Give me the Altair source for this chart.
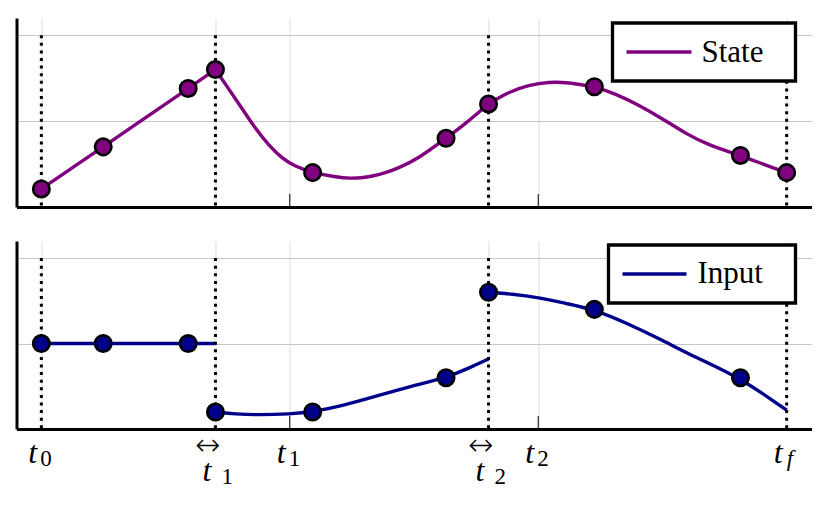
import altair as alt
import pandas as pd

# ---------------- data ----------------
# tick positions (time)
tick_t = [0.0, 2.336, 10 / 3, 6.0, 20 / 3, 10.0]
tick_sub = ["0", "1", "1", "2", "2", "f"]
tick_arrow = [False, True, False, True, False, False]
phase_bounds = [0.0, 2.336, 6.0, 10.0]      # dotted lines
plain_ticks = [10 / 3, 20 / 3]               # small inward ticks

# State: collocation nodes
state_node_t = [0.0, 0.83, 1.97, 2.336, 3.64, 5.43, 6.0, 7.42, 9.38, 10.0]
state_node_y = [0.21, 0.70, 1.38, 1.60, 0.40, 0.80, 1.20, 1.40, 0.60, 0.40]
# State: interpolated trajectory per phase
state_p1_t = [0.0, 0.83, 1.97, 2.336]
state_p1_y = [0.21, 0.70, 1.38, 1.60]
state_p2_t = [2.336, 2.51, 2.69, 2.87, 3.05, 3.23, 3.41, 3.64, 3.94, 4.15, 4.35,
              4.52, 4.79, 5.06, 5.43, 5.69, 6.0]
state_p2_y = [1.60, 1.38, 1.15, 0.915, 0.72, 0.565, 0.47, 0.40, 0.35, 0.33, 0.345,
              0.37, 0.45, 0.565, 0.80, 0.97, 1.20]
state_p3_t = [6.0, 6.27, 6.54, 6.81, 7.07, 7.42, 7.70, 8.01, 8.33, 8.64, 8.95, 9.38, 9.71, 10.0]
state_p3_y = [1.20, 1.34, 1.42, 1.457, 1.45, 1.40, 1.32, 1.19, 1.03, 0.857, 0.72, 0.60, 0.49, 0.40]

# Input: collocation nodes
input_node_t = [0.0, 0.83, 1.97, 2.336, 3.64, 5.43, 6.0, 7.42, 9.38]
input_node_y = [1.0, 1.0, 1.0, 0.20, 0.20, 0.60, 1.60, 1.40, 0.60]
# Input: interpolated trajectory per phase
input_p1_t = [0.0, 2.336]
input_p1_y = [1.0, 1.0]
input_p2_t = [2.336, 2.60, 2.91, 3.34, 3.64, 4.03, 4.48, 4.93, 5.43, 5.73, 6.0]
input_p2_y = [0.20, 0.175, 0.164, 0.175, 0.20, 0.27, 0.38, 0.495, 0.60, 0.71, 0.82]
input_p3_t = [6.0, 6.31, 6.67, 7.03, 7.42, 7.88, 8.33, 8.77, 9.38, 10.0]
input_p3_y = [1.60, 1.58, 1.54, 1.47, 1.40, 1.23, 1.04, 0.84, 0.60, 0.22]

legend_labels = ["State", "Input"]

# ---------------- tables ----------------
def curve_df(parts):
    rows = []
    for i, (ts, ys) in enumerate(parts):
        for t, y in zip(ts, ys):
            rows.append({"t": t, "y": y, "seg": f"p{i+1}"})
    return pd.DataFrame(rows)

state_curve = curve_df([(state_p1_t, state_p1_y), (state_p2_t, state_p2_y), (state_p3_t, state_p3_y)])
input_curve = curve_df([(input_p1_t, input_p1_y), (input_p2_t, input_p2_y), (input_p3_t, input_p3_y)])
state_nodes = pd.DataFrame({"t": state_node_t, "y": state_node_y})
input_nodes = pd.DataFrame({"t": input_node_t, "y": input_node_y})
dots_df = pd.DataFrame({"t": phase_bounds})
ticks_df = pd.DataFrame({"t": plain_ticks})
labels_df = pd.DataFrame({"t": tick_t, "main": ["t"] * len(tick_t), "sub": tick_sub,
                          "arrow": tick_arrow, "arr": ["\u2194"] * len(tick_t)})

PURPLE = "#800080"
NAVY = "#00008b"
FONT = "Liberation Serif, Times New Roman, DejaVu Serif, serif"
W = 795
H1 = 189
H2 = 188

x_scale = alt.Scale(domain=[-1 / 3, 10 + 1 / 3], nice=False, zero=False)
y_scale = alt.Scale(domain=[0, 2.2], nice=False, zero=False)
x_axis = alt.Axis(values=tick_t, labels=False, ticks=False, grid=True, gridColor="#e2e2e2",
                  gridWidth=1.2, domainColor="black", domainWidth=3, title=None)
y_axis = alt.Axis(values=[1, 2], labels=False, ticks=False, grid=True, gridColor="#c6c6c6",
                  gridWidth=1.2, domainColor="black", domainWidth=3, title=None)

X = alt.X("t:Q", scale=x_scale, axis=x_axis)
Y = alt.Y("y:Q", scale=y_scale, axis=y_axis)


def panel(curve, nodes, color, label, h, box):
    lines = alt.Chart(curve).mark_line(color=color, strokeWidth=3.4, interpolate="basis").encode(
        x=X, y=Y, detail="seg:N")
    dots = alt.Chart(dots_df).mark_rule(color="black", strokeWidth=3, strokeDash=[3, 4.6]).encode(
        x=X, y=alt.YDatum(2, scale=y_scale, axis=y_axis), y2=alt.Y2Datum(0))
    tks = alt.Chart(ticks_df).mark_rule(color="black", strokeWidth=1).encode(
        x=X, y=alt.value(h), y2=alt.value(h - 13))
    pts = alt.Chart(nodes).mark_circle(color=color, stroke="black", strokeWidth=2.6, size=270,
                                       opacity=1).encode(x=X, y=Y)
    bx0, bx1, by0, by1, lx0, lx1, ly, tx, ty = box
    lab_df = pd.DataFrame({"label": [label]})
    lrect = alt.Chart(lab_df).mark_rect(fill="white", stroke="black", strokeWidth=3.3).encode(
        x=alt.value(bx0), x2=alt.value(bx1), y=alt.value(by0), y2=alt.value(by1))
    lline = alt.Chart(lab_df).mark_rule(color=color, strokeWidth=3.4).encode(
        x=alt.value(lx0), x2=alt.value(lx1), y=alt.value(ly))
    ltext = alt.Chart(lab_df).mark_text(align="left", baseline="alphabetic", font=FONT,
                                        fontSize=31, color="black").encode(
        text="label:N", x=alt.value(tx), y=alt.value(ty))
    return [lines, dots, tks, pts, lrect, lline, ltext]


top_layers = panel(state_curve, state_nodes, PURPLE, legend_labels[0], H1,
                   (596, 779, 5, 63, 610, 675, 34, 685, 44))
top = alt.layer(*top_layers).properties(width=W, height=H1)

bot_layers = panel(input_curve, input_nodes, NAVY, legend_labels[1], H2,
                   (592, 779, 4, 62, 606, 670, 33, 681, 42))

base_lab = alt.Chart(labels_df)
plain = base_lab.transform_filter("!datum.arrow")
arrowed = base_lab.transform_filter("datum.arrow")
main_plain = plain.mark_text(align="left", baseline="alphabetic", font=FONT, fontSize=32,
                             fontStyle="italic", dx=-13, color="black").encode(
    x=X, y=alt.value(H2 + 34), text="main:N")
sub_plain_d = plain.transform_filter("datum.sub != 'f'").mark_text(
    align="left", baseline="alphabetic", font=FONT, fontSize=23, dx=-1, color="black").encode(
    x=X, y=alt.value(H2 + 37), text="sub:N")
sub_plain_f = plain.transform_filter("datum.sub == 'f'").mark_text(
    align="left", baseline="alphabetic", font=FONT, fontSize=23, fontStyle="italic", dx=0,
    color="black").encode(x=X, y=alt.value(H2 + 37), text="sub:N")
main_arr = arrowed.mark_text(align="left", baseline="alphabetic", font=FONT, fontSize=32,
                             fontStyle="italic", dx=-13, color="black").encode(
    x=X, y=alt.value(H2 + 52), text="main:N")
sub_arr = arrowed.mark_text(align="left", baseline="alphabetic", font=FONT, fontSize=23, dx=6,
                            color="black").encode(x=X, y=alt.value(H2 + 55), text="sub:N")
arr = arrowed.mark_text(align="center", baseline="middle", font="Noto Sans, DejaVu Sans", fontSize=30,
                        fontWeight=300, dx=-8, color="black").encode(
    x=X, y=alt.value(H2 + 17), text="arr:N")

bot = alt.layer(*bot_layers, main_plain, sub_plain_d, sub_plain_f, main_arr, sub_arr, arr).properties(
    width=W, height=H2)

chart = alt.vconcat(top, bot, spacing=32).properties(
    padding={"left": 8.5, "top": 10, "right": 5, "bottom": 5},
    background="white",
).configure_view(stroke=None)

chart.save("out.html", embed_options={"renderer": "svg", "actions": False})
